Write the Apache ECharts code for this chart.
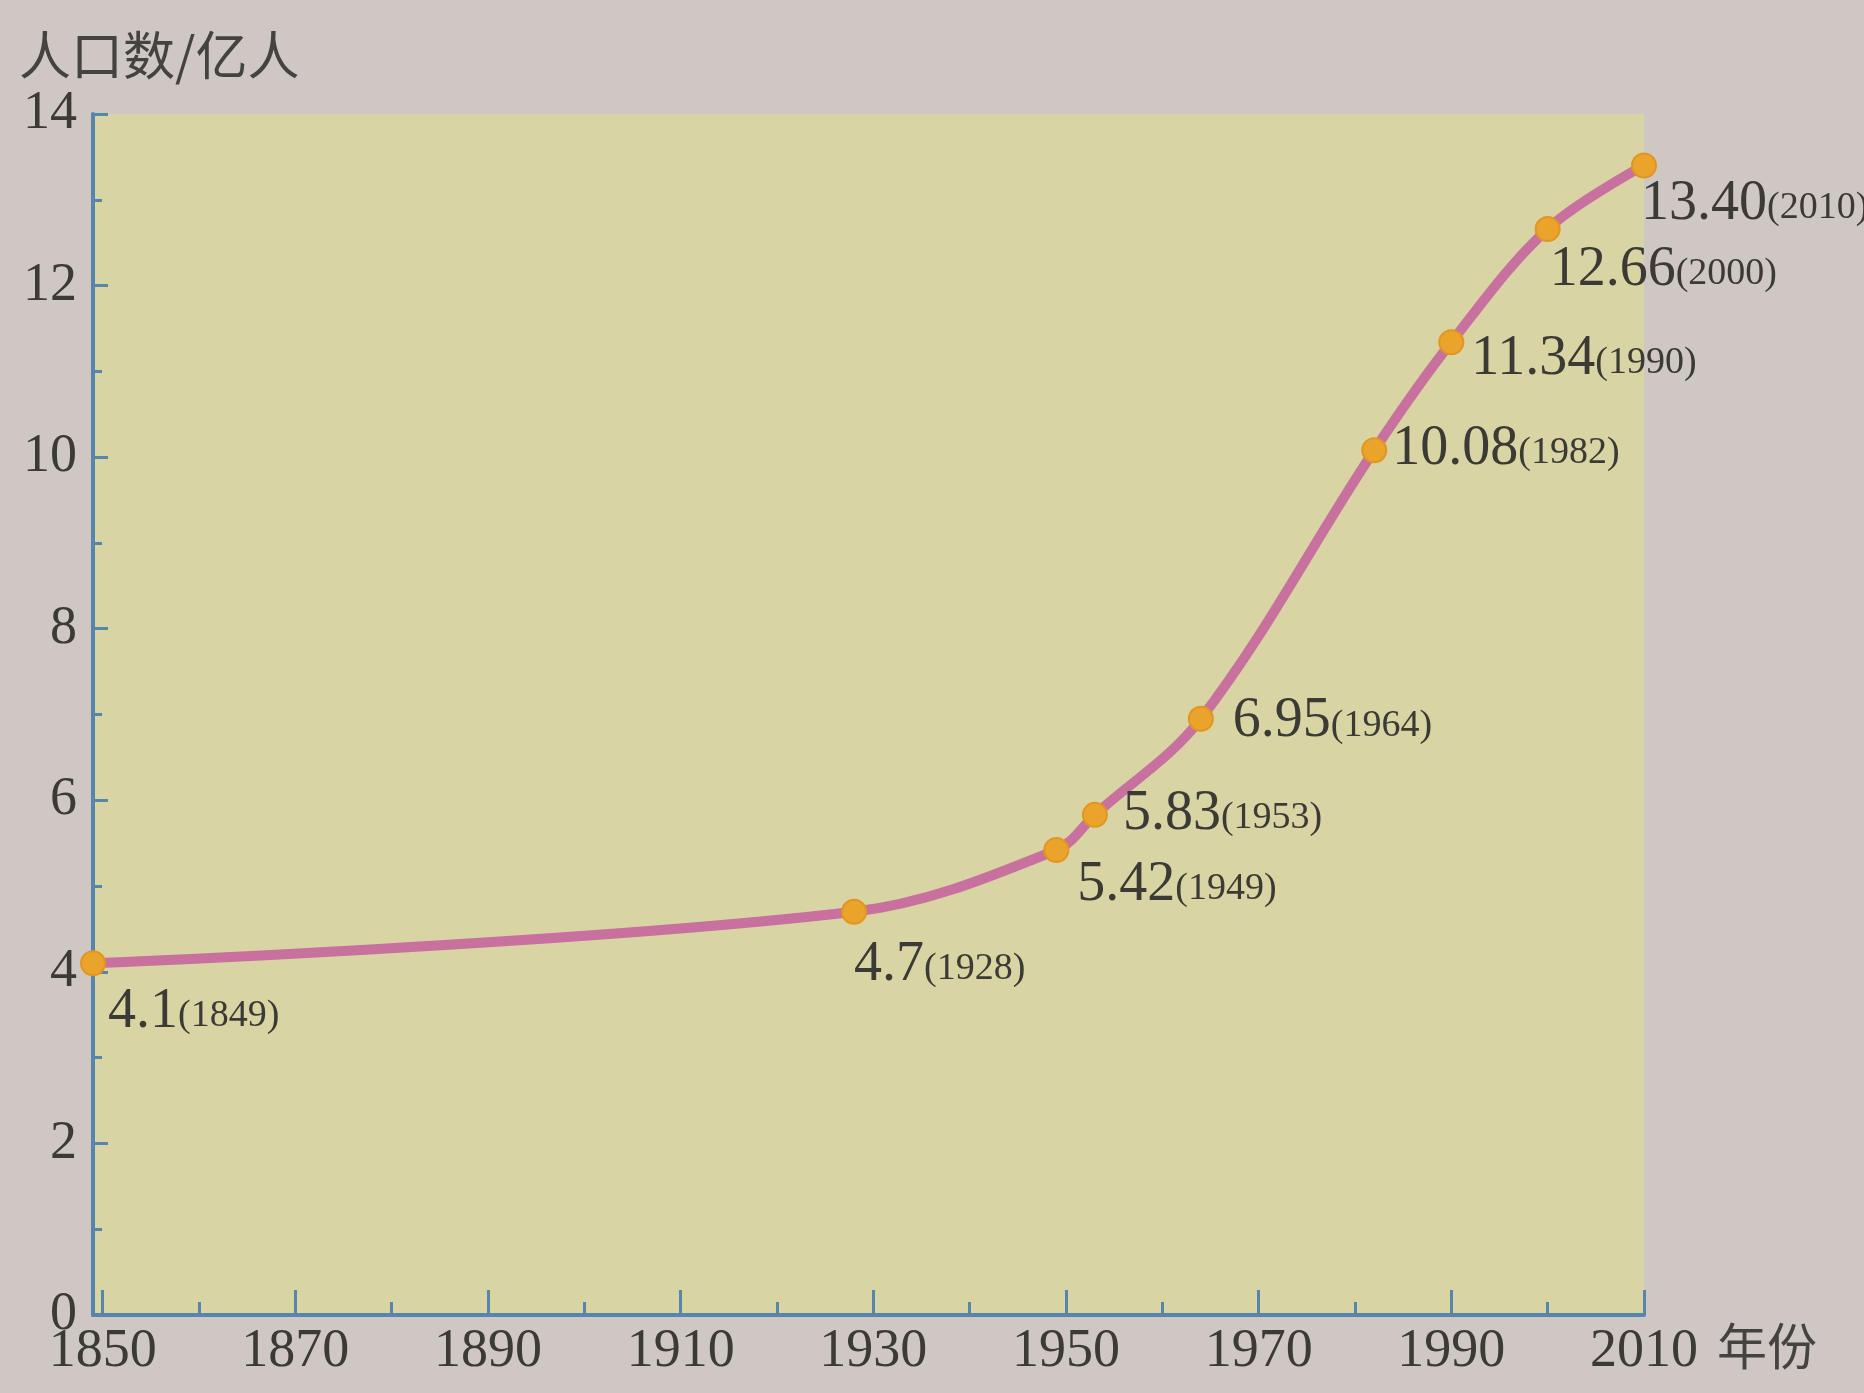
<!DOCTYPE html>
<html>
<head>
<meta charset="utf-8">
<script src="https://cdn.jsdelivr.net/npm/echarts@6/dist/echarts.min.js"></script>
<style>
html,body{margin:0;padding:0;background:#cec7c4;}
#chart{width:1864px;height:1393px;}
</style>
</head>
<body>
<div id="chart"></div>
<script>
// ---- data ----
const years = [1849, 1928, 1949, 1953, 1964, 1982, 1990, 2000, 2010];
const populations = [4.1, 4.7, 5.42, 5.83, 6.95, 10.08, 11.34, 12.66, 13.40];
const valueTexts = ['4.1', '4.7', '5.42', '5.83', '6.95', '10.08', '11.34', '12.66', '13.40'];
const xLabelValues = [1850, 1870, 1890, 1910, 1930, 1950, 1970, 1990, 2010];
const xMinorTickValues = [1860, 1880, 1900, 1920, 1940, 1960, 1980, 2000];
const xMajorTickValues = [1850, 1870, 1890, 1910, 1930, 1950, 1970, 1990, 2010];
const yAxisTitle = '人口数/亿人';
const xAxisTitle = '年份';

// ---- label placement relative to the marker (style, not data) ----
const labelOffsets = [
  [4, 50], [-11, 54], [10, 36], [17, 0], [21, 4], [7, 0], [9, 18], [-9, 42], [-14, 40]
];

const serif = '"Liberation Serif", "DejaVu Serif", serif';
const textColor = '#3b3a35';
const axisColor = '#5686ab';
const symbolSize = 24;

const seriesData = years.map((y, i) => ({
  value: [y, populations[i]],
  label: {
    show: true,
    position: [symbolSize + labelOffsets[i][0], symbolSize / 2 + labelOffsets[i][1]],
    align: 'left',
    verticalAlign: 'middle',
    formatter: '{v|' + valueTexts[i] + '}{y|(' + years[i] + ')}',
    rich: {
      v: {fontFamily: serif, fontSize: 56, lineHeight: 56, color: textColor, verticalAlign: 'bottom'},
      y: {fontFamily: serif, fontSize: 38, lineHeight: 56, color: textColor, verticalAlign: 'bottom',
          padding: [0, 0, 5, 0]}
    }
  }
}));

const chart = echarts.init(document.getElementById('chart'), null, {renderer: 'canvas'});
const option = {
  backgroundColor: '#cec7c4',
  animation: false,
  title: [
    {text: yAxisTitle, left: 14, top: 24, padding: 5,
     textStyle: {fontFamily: '"Noto Sans CJK SC"', fontSize: 52, fontWeight: 'normal', color: '#45433f'}},
    {text: xAxisTitle, left: 1712, top: 1316, padding: 5,
     textStyle: {fontFamily: '"Noto Sans CJK SC"', fontSize: 50, fontWeight: 'normal', color: '#45433f'}}
  ],
  grid: {left: 93, right: 220, top: 114, bottom: 78, show: true, backgroundColor: '#d8d4a4', borderWidth: 0},
  xAxis: [
    {
      type: 'value', min: 1849, max: 2010, position: 'bottom',
      axisLine: {show: true, lineStyle: {color: axisColor, width: 4}},
      axisTick: {show: true, inside: true, length: 13, customValues: xMinorTickValues,
                 lineStyle: {color: axisColor, width: 3}},
      axisLabel: {show: true, customValues: xLabelValues, margin: 10,
                  formatter: (v) => String(v),
                  fontFamily: serif, fontSize: 54, color: textColor},
      splitLine: {show: false}
    },
    {
      type: 'value', min: 1849, max: 2010, position: 'bottom', gridIndex: 0,
      axisLine: {show: false},
      axisTick: {show: true, inside: true, length: 25, customValues: xMajorTickValues,
                 lineStyle: {color: axisColor, width: 3}},
      axisLabel: {show: false},
      splitLine: {show: false}
    }
  ],
  yAxis: {
    type: 'value', min: 0, max: 14, interval: 2,
    axisLine: {show: true, lineStyle: {color: axisColor, width: 4}},
    axisTick: {show: true, inside: true, length: 15, lineStyle: {color: axisColor, width: 3}},
    minorTick: {show: true, splitNumber: 2, length: 9, lineStyle: {color: axisColor, width: 3}},
    axisLabel: {margin: 16, fontFamily: serif, fontSize: 54, color: textColor},
    splitLine: {show: false}
  },
  series: [{
    type: 'line',
    xAxisIndex: 0,
    data: seriesData,
    smooth: 0.35,
    symbol: 'circle',
    symbolSize: symbolSize,
    lineStyle: {color: '#c8719f', width: 10},
    itemStyle: {color: '#eaa42b', borderColor: '#e29620', borderWidth: 2},
    z: 3
  }]
};
chart.setOption(option);
</script>
</body>
</html>
